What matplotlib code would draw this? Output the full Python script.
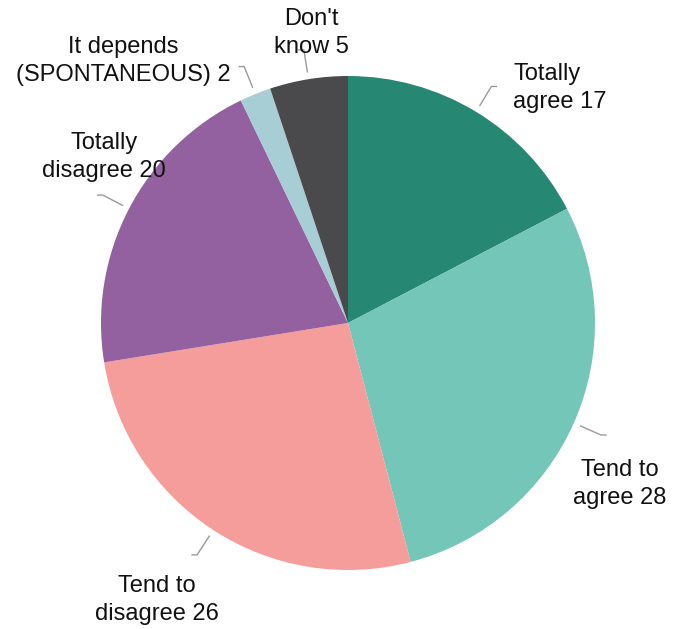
import numpy as np
import matplotlib.pyplot as plt

plt.rcParams['font.family'] = ['Liberation Sans', 'DejaVu Sans']

labels = ["Totally\nagree 17", "Tend to\nagree 28", "Tend to\ndisagree 26",
          "Totally\ndisagree 20", "It depends\n(SPONTANEOUS) 2", "Don't\nknow 5"]
values = [17, 28, 26, 20, 2, 5]
colors = ["#268773", "#74C6B8", "#F59D9A", "#9461A0", "#A7CDD5", "#4A4A4D"]

W, H = 684, 629
fig = plt.figure(figsize=(W / 100, H / 100), dpi=100)
ax = fig.add_axes([0, 0, 1, 1])

cx, cy, R = 348, H - 323, 247
wedges, _ = ax.pie(values, colors=colors, startangle=90, counterclock=False,
                   center=(cx, cy), radius=R, wedgeprops=dict(linewidth=0))

# label anchor (pixel coords from top-left), alignment, tick direction
label_pos = [(513, 88, "left", 1), (620, 484, "center", 1), (157, 600, "center", -1),
             (104, 157, "center", -1), (123, 61, "center", -1), (311, 33, "center", -1)]

for w, lab, (lx, ly, ha, side) in zip(wedges, labels, label_pos):
    mid = np.deg2rad((w.theta1 + w.theta2) / 2)
    x1, y1 = cx + 1.03 * R * np.cos(mid), cy + 1.03 * R * np.sin(mid)
    x2, y2 = cx + 1.12 * R * np.cos(mid), cy + 1.12 * R * np.sin(mid)
    ax.plot([x1, x2, x2 + side * 5], [y1, y2, y2], color="#9a9a9a", lw=1)
    ax.text(lx, H - ly, lab, ha=ha, va="center", fontsize=17,
            linespacing=1.3, color="#111111")

ax.set_xlim(0, W)
ax.set_ylim(0, H)
ax.set_aspect("equal")
ax.axis("off")
fig.savefig("out.png", dpi=100)
